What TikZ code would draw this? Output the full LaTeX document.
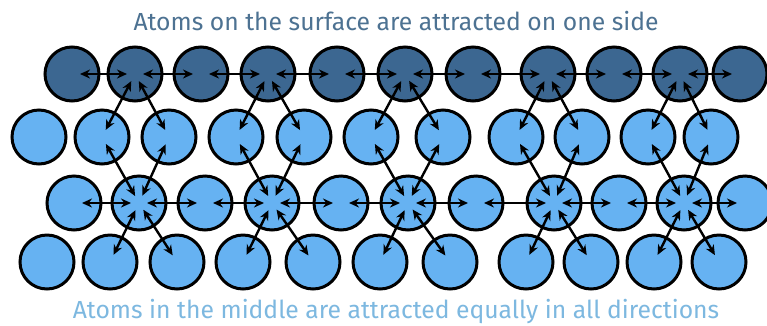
\documentclass[tikz,border=0pt]{standalone}
\usepackage{fontspec}
\setmainfont{Fira Sans}
\usetikzlibrary{arrows.meta}
\definecolor{darkatom}{HTML}{3C6791}
\definecolor{lightatom}{HTML}{66B2F2}
\definecolor{toptext}{HTML}{4D7292}
\definecolor{bottext}{HTML}{7DB8E0}
\tikzset{
  atom/.style={circle, draw=black, line width=3pt, minimum size=54pt, inner sep=0pt},
  surf/.style={atom, fill=darkatom},
  bulk/.style={atom, fill=lightatom},
  pull/.style={{Stealth[length=10pt,width=9pt]}-{Stealth[length=10pt,width=9pt]}, line width=2.4pt, shorten <=8pt, shorten >=8pt},
  caption/.style={anchor=base, inner sep=0pt, font=\fontsize{24.7}{28}\selectfont}
}
\begin{document}
\begin{tikzpicture}[x=1pt,y=-1pt]
\useasboundingbox (0,0) rectangle (767,325);
\fill[white] (0,0) rectangle (767,325);
\node[caption, text=toptext] (top) at (396,30) {Atoms on the surface are attracted on one side};
\node[caption, text=bottext] (bot) at (396,318) {Atoms in the middle are attracted equally in all directions};
% row 1 (surface)
\foreach \x [count=\i] in {72,135,201,268,337,405,473,548,614,680,740}
  \node[surf] (d\i) at (\x,74) {};
% row 2
\foreach \x [count=\i] in {39,102,169,236,304,371,443,516,582,648,711}
  \node[bulk] (a\i) at (\x,137) {};
% row 3
\foreach \x [count=\i] in {74,139,205,272,341,408,476,554,619,684,745}
  \node[bulk] (b\i) at (\x,203) {};
% row 4
\foreach \x [count=\i] in {47,110,177,243,313,380,450,526,591,654,719}
  \node[bulk] (c\i) at (\x,262) {};
% horizontal pulls
\foreach \i [evaluate=\i as \j using int(\i+1)] in {1,...,10} {
  \draw[pull] (d\i.center) -- (d\j.center);
  \draw[pull] (b\i.center) -- (b\j.center);
}
% diagonal pulls
\foreach \h/\l/\r in {2/2/3,4/4/5,6/6/7,8/8/9,10/10/11} {
  \draw[pull] (d\h.center) -- (a\l.center);
  \draw[pull] (d\h.center) -- (a\r.center);
  \draw[pull] (b\h.center) -- (a\l.center);
  \draw[pull] (b\h.center) -- (a\r.center);
  \draw[pull] (b\h.center) -- (c\l.center);
  \draw[pull] (b\h.center) -- (c\r.center);
}
\end{tikzpicture}
\end{document}
